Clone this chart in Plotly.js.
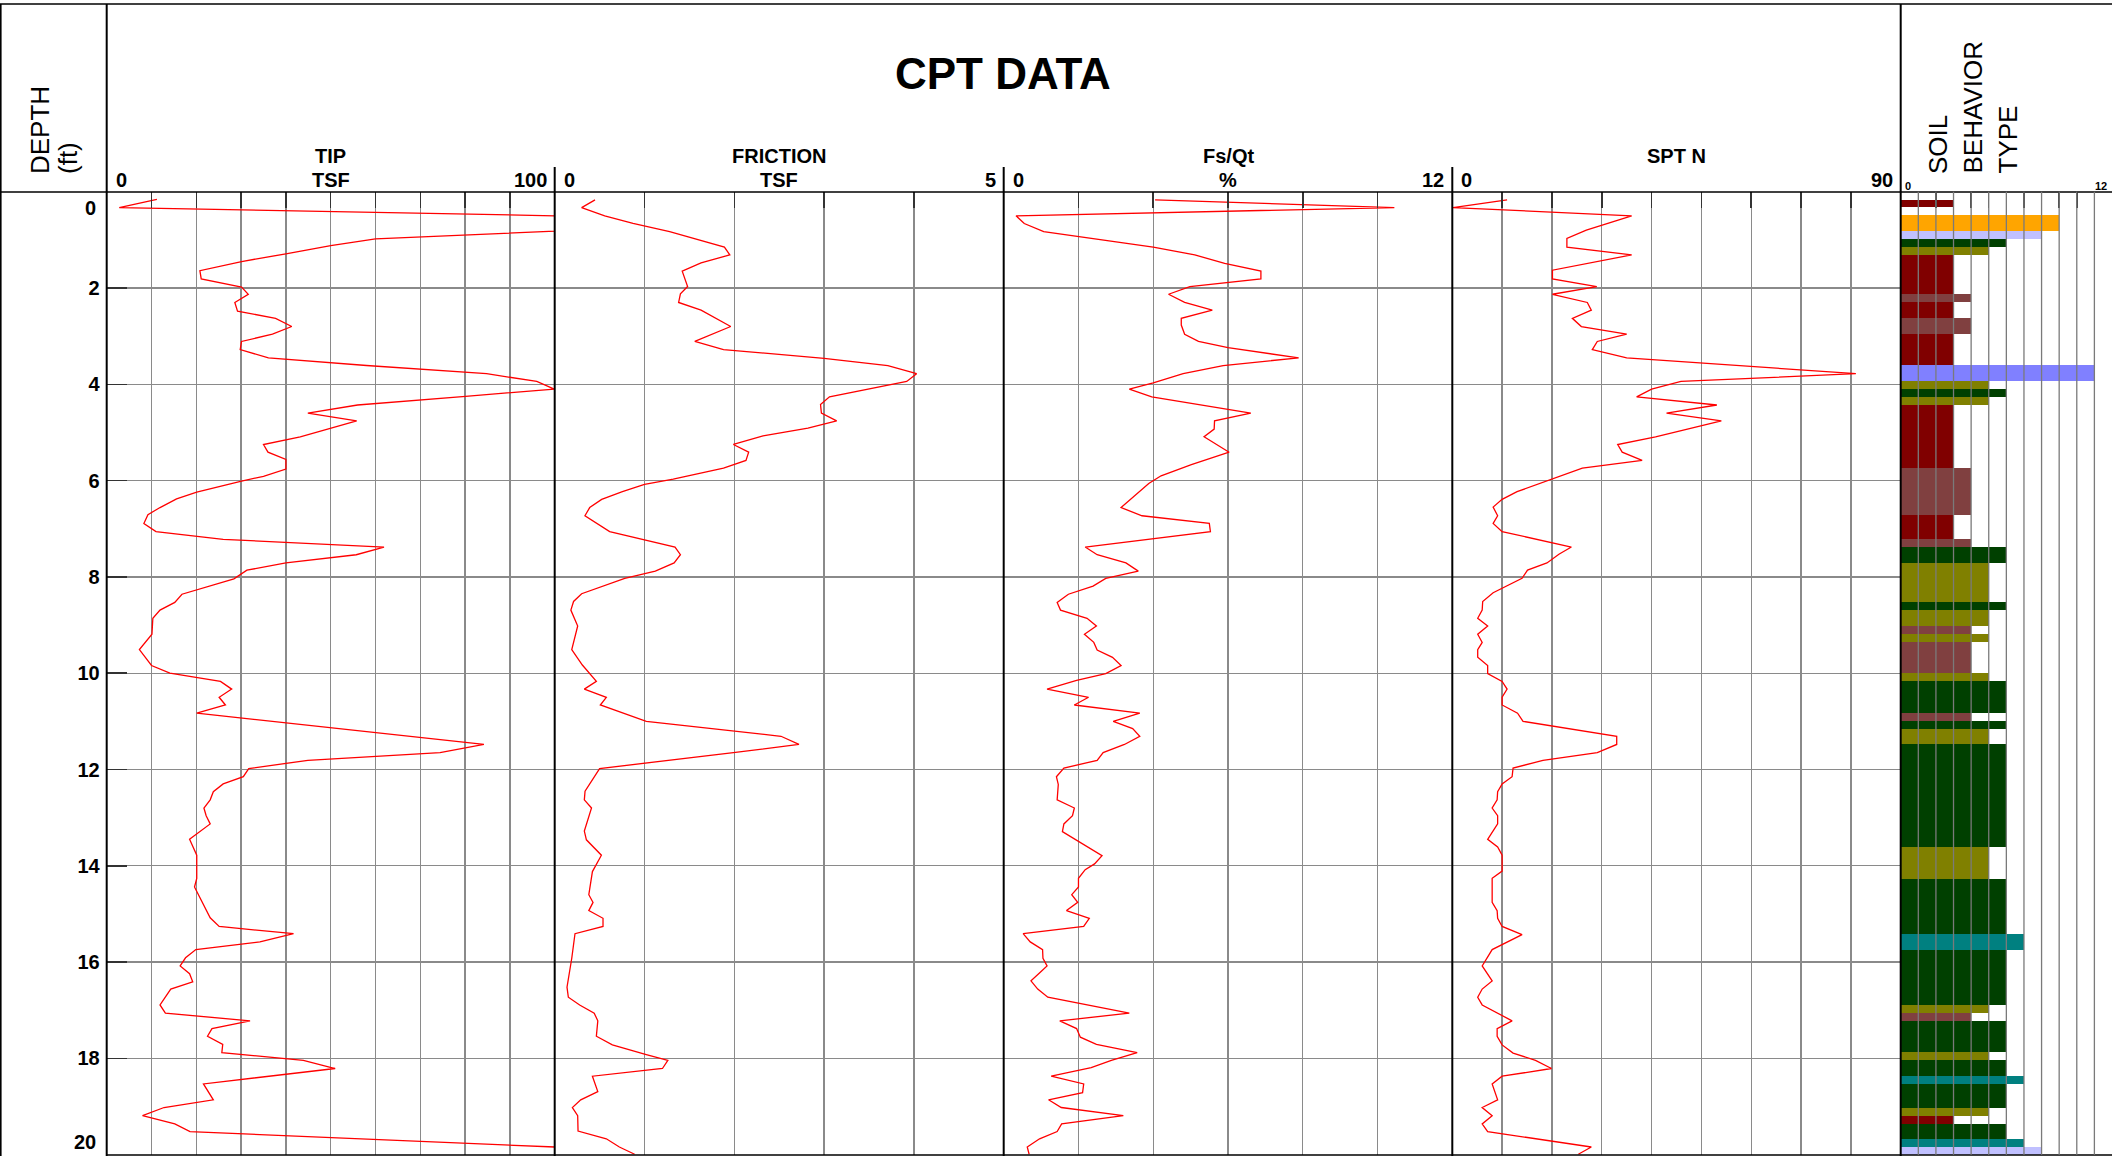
<!DOCTYPE html>
<html>
<head>
<meta charset="utf-8">
<script src="https://cdn.plot.ly/plotly-3.0.1.min.js"></script>
<style>
html,body{margin:0;padding:0;background:#ffffff;}
#chart{width:2112px;height:1156px;}
</style>
</head>
<body>
<div id="chart"></div>
<script>
// ---------------- DATA ----------------
const tipDepth = [0.16,0.33,0.50,0.82,0.98,1.12,1.29,1.45,1.64,1.81,1.98,2.13,2.30,2.48,2.63,2.80,2.96,3.11,3.28,3.45,3.61,3.78,3.94,4.10,4.25,4.43,4.60,4.76,5.09,5.25,5.41,5.56,5.76,5.91,6.01,6.24,6.38,6.56,6.71,6.89,7.06,7.22,7.38,7.54,7.71,7.86,8.04,8.36,8.53,8.69,8.86,9.19,9.51,9.84,10.00,10.17,10.33,10.50,10.66,10.83,11.48,11.65,11.81,11.98,12.15,12.30,12.46,12.63,12.80,12.96,13.13,13.45,13.78,14.26,14.44,14.72,15.08,15.26,15.41,15.58,15.74,15.91,16.08,16.24,16.41,16.56,16.89,17.06,17.22,17.38,17.54,17.71,17.88,18.04,18.21,18.53,18.86,19.02,19.19,19.36,19.52,19.84,20.0];
const tipTsf = [11.2,2.8,100,100,60,50,40,30.1,20.8,21.1,30.1,31.6,28.6,29.2,37.7,41.3,37.0,30.1,29.8,36.1,58,84.8,96,99.9,80.1,56,44.9,55.8,43.2,35.0,36.0,40.0,40.0,35.0,30.1,20.1,15.6,11.9,9.2,8.3,11.0,26.0,61.9,55.7,40.0,31.3,28.4,16.8,15.2,11.9,10.3,10.1,7.3,10.0,14.1,25.4,27.9,25.1,26.5,20.1,84.2,74.4,44.9,31.7,30.5,26.0,23.8,23.1,21.7,22.2,23.1,18.5,20.1,20.1,19.6,21.1,23.1,25.1,41.7,34.2,19.9,17.6,16.4,18.5,19.2,14.3,11.9,13.1,32.0,23.5,22.5,25.9,25.7,43.9,51.0,21.6,23.8,12.8,8.0,15.2,18.6,100,100];

const frDepth = [0.17,0.33,0.50,0.66,0.83,0.98,1.15,1.31,1.48,1.65,1.97,2.12,2.30,2.46,2.80,3.11,3.28,3.46,3.61,3.78,3.94,4.26,4.42,4.60,4.76,4.91,5.07,5.25,5.41,5.58,5.74,5.97,6.08,6.23,6.39,6.56,6.73,7.06,7.38,7.54,7.71,7.88,8.03,8.35,8.51,8.69,9.02,9.51,9.83,10.17,10.33,10.50,10.66,11.00,11.20,11.31,11.48,11.65,11.98,12.45,12.63,12.80,13.28,13.46,13.78,13.99,14.12,14.60,14.76,14.93,15.09,15.26,15.41,15.92,16.52,16.73,16.89,17.06,17.22,17.54,17.72,17.92,18.04,18.21,18.37,18.69,18.86,19.02,19.19,19.51,19.67,19.84,19.99];
const frTsf = [0.449,0.30,0.557,0.872,1.28,1.58,1.89,1.95,1.63,1.42,1.48,1.40,1.38,1.63,1.96,1.56,1.88,3.00,3.71,4.03,3.92,3.06,2.96,2.97,3.14,2.82,2.32,1.99,2.16,2.13,1.88,1.32,1.00,0.754,0.523,0.39,0.337,0.612,1.34,1.40,1.33,1.12,0.78,0.30,0.21,0.18,0.256,0.19,0.308,0.464,0.33,0.575,0.508,1.02,1.99,2.52,2.72,1.99,0.50,0.338,0.33,0.41,0.33,0.353,0.52,0.464,0.42,0.38,0.427,0.38,0.538,0.538,0.226,0.19,0.137,0.152,0.278,0.44,0.48,0.464,0.642,1.02,1.26,1.20,0.42,0.48,0.29,0.197,0.256,0.26,0.575,0.72,0.89];

const fsDepth = [0.17,0.33,0.50,0.66,0.83,1.15,1.31,1.49,1.65,1.81,1.97,2.13,2.30,2.46,2.63,2.77,2.96,3.11,3.24,3.45,3.61,3.78,3.97,4.10,4.26,4.60,4.76,4.93,5.09,5.41,5.67,5.90,6.06,6.26,6.56,6.73,6.89,7.06,7.20,7.38,7.54,7.71,7.88,8.03,8.19,8.36,8.53,8.69,8.86,9.02,9.19,9.36,9.52,9.67,9.84,10.01,10.15,10.33,10.50,10.66,10.83,11.00,11.15,11.31,11.48,11.65,11.81,11.97,12.15,12.31,12.63,12.80,12.96,13.13,13.29,13.61,13.79,13.96,14.08,14.26,14.44,14.60,14.76,14.93,15.09,15.26,15.41,15.58,15.74,15.92,16.08,16.23,16.39,16.56,16.73,17.06,17.22,17.38,17.56,17.71,17.88,18.04,18.19,18.37,18.53,18.71,18.86,19.02,19.19,19.36,19.52,19.67,19.84,19.99];
const fsPct = [4.05,10.45,0.33,0.55,1.07,4.0,5.11,5.91,6.88,6.88,4.98,4.41,4.84,5.58,4.75,4.75,4.84,5.21,6.0,7.89,5.87,4.80,4.0,3.36,3.96,6.61,5.64,5.63,5.36,6.03,5.02,4.21,3.88,3.59,3.14,3.70,5.5,5.53,4.0,2.18,2.50,3.27,3.60,2.73,2.39,1.73,1.43,1.52,2.23,2.48,2.16,2.41,2.50,2.91,3.14,2.73,1.95,1.16,2.27,1.89,3.64,2.93,3.45,3.64,3.23,2.66,2.50,1.61,1.41,1.46,1.43,1.89,1.84,1.61,1.57,2.25,2.63,2.43,2.18,2.0,2.0,1.82,1.98,1.68,2.29,2.14,0.52,0.71,1.04,1.05,1.16,0.95,0.73,0.91,1.18,3.36,1.5,1.95,2.05,2.48,3.57,2.88,2.34,1.27,2.14,2.11,1.2,1.54,3.2,1.55,1.43,0.96,0.63,0.68];

const sptDepth = [0.17,0.33,0.50,0.80,0.97,1.15,1.31,1.63,1.81,1.97,2.13,2.30,2.46,2.63,2.80,2.96,3.11,3.28,3.45,3.78,3.94,4.10,4.26,4.43,4.60,4.76,5.09,5.25,5.41,5.58,5.74,5.97,6.23,6.39,6.55,6.73,6.89,7.06,7.38,7.53,7.71,7.86,8.03,8.33,8.51,8.69,8.86,9.02,9.19,9.36,9.51,9.67,9.84,10.01,10.17,10.33,10.50,10.66,10.83,11.00,11.31,11.48,11.65,11.81,11.97,12.15,12.30,12.46,12.63,12.80,12.96,13.13,13.45,13.61,13.78,14.11,14.26,14.76,14.93,15.09,15.26,15.43,15.74,16.08,16.39,16.56,16.73,16.89,17.22,17.38,17.54,17.72,17.89,18.04,18.21,18.37,18.53,18.86,19.02,19.19,19.36,19.52,19.84,19.99];
const sptN = [11.0,0.13,36.0,26.9,23.0,23.0,36.0,20.1,20.1,29.0,20.1,27.1,27.9,24.1,25.9,35.0,29.1,28.1,35.0,81.0,45.9,40.0,37.0,53.1,43.0,54.0,40.8,33.2,34.1,38.1,26.1,20.1,13.0,10.0,8.2,9.1,8.2,10.0,23.9,21.4,19.0,15.1,14.0,8.2,6.1,6.0,5.1,7.1,5.1,6.0,5.1,5.1,7.1,7.1,10.0,11.0,10.0,10.0,13.1,14.2,33.0,33.0,29.1,18.2,12.2,12.0,10.0,9.1,9.0,8.0,9.1,9.1,7.1,9.1,10.0,10.0,8.0,8.0,9.0,9.1,10.0,14.0,8.0,6.0,8.0,6.0,5.1,6.0,12.0,9.0,9.0,10.0,12.2,16.7,19.9,10.0,8.0,9.1,6.0,8.0,6.0,7.1,27.9,25.3];

// Soil behaviour type layers (depth from / depth to, zone number)
const sbtFrom = [0.164,0.492,0.820,0.984,1.148,1.312,2.132,2.296,2.624,2.952,3.608,3.936,4.100,4.264,4.428,5.740,6.724,7.216,7.380,7.708,8.528,8.692,9.020,9.184,9.348,10.004,10.168,10.824,10.988,11.152,11.480,13.612,14.268,15.416,15.744,16.892,17.056,17.220,17.876,18.040,18.368,18.532,19.024,19.188,19.352,19.680,19.844];
const sbtTo   = [0.328,0.820,0.984,1.148,1.312,2.132,2.296,2.624,2.952,3.608,3.936,4.100,4.264,4.428,5.740,6.724,7.216,7.380,7.708,8.528,8.692,9.020,9.184,9.348,10.004,10.168,10.824,10.988,11.152,11.480,13.612,14.268,15.416,15.744,16.892,17.056,17.220,17.876,18.040,18.368,18.532,19.024,19.188,19.352,19.680,19.844,20.008];
const sbtZone = [3,9,8,6,5,3,4,3,4,3,11,5,6,5,3,4,3,4,6,5,6,5,4,5,4,5,6,4,6,5,6,5,6,7,6,5,4,6,5,6,7,6,5,3,6,7,8];

const panelTitles = ['TIP','FRICTION','Fs/Qt','SPT N'];
const panelUnits  = ['TSF','TSF','%',''];
const panelMin    = ['0','0','0','0'];
const panelMax    = ['100','5','12','90'];
const depthTicks  = [2,4,6,8,10,12,14,16,18];

// ---------------- STYLE / LAYOUT ----------------
const W = 2112, H = 1156;
const px = x => x / W;
const py = y => 1 - y / H;
const FONT = 'Liberation Sans, Arial, Helvetica, sans-serif';
const GRID = '#8a8a8a';
const zoneColors = {3:'#800000',4:'#804040',5:'#808000',6:'#004000',7:'#008080',8:'#C0C0FF',9:'#FFA500',11:'#8080FF'};
const panelX = [[106.7,554.7],[554.7,1003.7],[1003.7,1452.3],[1452.3,1900.7],[1900.7,2112]];
const yTop = 191.7, yBot = 1154.7;
const yDom = [py(yBot), py(yTop)];

const redLine = {color:'#ff0000', width:1.3};
const traces = [
  {type:'scatter', mode:'lines', x:tipTsf, y:tipDepth, xaxis:'x', yaxis:'y', line:redLine, hoverinfo:'skip'},
  {type:'scatter', mode:'lines', x:frTsf, y:frDepth, xaxis:'x2', yaxis:'y2', line:redLine, hoverinfo:'skip'},
  {type:'scatter', mode:'lines', x:fsPct, y:fsDepth, xaxis:'x3', yaxis:'y3', line:redLine, hoverinfo:'skip'},
  {type:'scatter', mode:'lines', x:sptN, y:sptDepth, xaxis:'x4', yaxis:'y4', line:redLine, hoverinfo:'skip'},
  {type:'bar', orientation:'h', xaxis:'x5', yaxis:'y5',
   x: sbtZone,
   y: sbtFrom.map((f,i)=>(f+sbtTo[i])/2),
   width: sbtFrom.map((f,i)=>sbtTo[i]-f),
   base: 0,
   marker:{color: sbtZone.map(z=>zoneColors[z]), line:{width:0}},
   hoverinfo:'skip'}
];

function xAxis(i, range, dtick){
  return {
    domain:[px(panelX[i][0]), px(panelX[i][1])], range:range, autorange:false,
    anchor: i===0 ? 'y' : 'y'+(i+1), side:'top',
    tick0:0, dtick:dtick, showgrid: i<4, gridcolor:GRID, gridwidth:1.3,
    zeroline:false, showline:false, ticks:'inside', ticklen:16, tickwidth:1.5, tickcolor:'#333',
    showticklabels:false, fixedrange:true
  };
}
function yAxis(i, main){
  const a = {
    domain:yDom, range:[20,0], autorange:false, anchor: i===0 ? 'x' : 'x'+(i+1),
    zeroline:false, showline:false, fixedrange:true,
    tickvals: depthTicks, showgrid: i<4, gridcolor:GRID, gridwidth:1.3
  };
  if (main){
    a.ticktext = depthTicks.map(t=>'<b>'+t+'</b>');
    a.ticks = 'inside'; a.ticklen = 20; a.tickwidth = 1.5; a.tickcolor = '#333';
    a.tickfont = {family:FONT, size:20, color:'#000'};
    a.ticklabelstandoff = 6;
    a.showticklabels = true;
  } else {
    a.ticks = ''; a.showticklabels = false;
  }
  return a;
}

const shapes = [];
function pline(x0,y0,x1,y1,w,c){
  shapes.push({type:'line', xref:'paper', yref:'paper', x0:px(x0), y0:py(y0), x1:px(x1), y1:py(y1),
    line:{color:c||'#000', width:w}, layer:'above'});
}
pline(0,4,W,4,1.5);
pline(0,192,W,192,1.5);
pline(0.8,4,0.8,H,1.6);
pline(106.7,4,106.7,H,2);
[554.7,1003.7,1452.3].forEach(x=>pline(x,167,x,H,2));
pline(1900.7,4,1900.7,H,2);
pline(106,1155,W,1155,1.5);
for (let k=1;k<=11;k++){
  shapes.push({type:'line', xref:'x5', yref:'y5 domain', x0:k, x1:k, y0:0, y1:1,
    line:{color:'#7a7a7a', width:1.3}, layer:'above'});
}

const annotations = [];
function ann(text, x, y, size, opts){
  annotations.push(Object.assign({xref:'paper', yref:'paper', x:px(x), y:py(y), text:text, showarrow:false,
    font:{family:FONT, size:size, color:'#000'}, xanchor:'center', yanchor:'middle'}, opts||{}));
}
ann('<b>CPT DATA</b>', 1003, 74, 44);
for (let i=0;i<4;i++){
  const x0 = panelX[i][0], x1 = panelX[i][1], cx = (x0+x1)/2;
  ann('<b>'+panelTitles[i]+'</b>', cx, 156, 20);
  if (panelUnits[i]) ann('<b>'+panelUnits[i]+'</b>', cx, 180, 20);
  ann('<b>'+panelMin[i]+'</b>', x0+7, 180, 20, {xanchor:'left'});
  ann('<b>'+panelMax[i]+'</b>', x1-6, 180, 20, {xanchor:'right'});
}
ann('<b>0</b>', 1903, 186, 11, {xanchor:'left'});
ann('<b>12</b>', 2109, 186, 11, {xanchor:'right'});
ann('DEPTH', 40, 176, 26, {textangle:-90, yanchor:'bottom'});
ann('(ft)', 68, 176, 26, {textangle:-90, yanchor:'bottom'});
ann('SOIL', 1937.5, 176, 26, {textangle:-90, yanchor:'bottom'});
ann('BEHAVIOR', 1972.5, 176, 26, {textangle:-90, yanchor:'bottom'});
ann('TYPE', 2007.5, 176, 26, {textangle:-90, yanchor:'bottom'});
// depth end labels (0 and 20) kept inside the plot band
annotations.push({xref:'paper', yref:'y', x:px(98), y:0, yanchor:'top', xanchor:'right', yshift:-3,
  text:'<b>0</b>', showarrow:false, font:{family:FONT, size:20, color:'#000'}});
annotations.push({xref:'paper', yref:'y', x:px(98), y:20, yanchor:'bottom', xanchor:'right', yshift:0,
  text:'<b>20</b>', showarrow:false, font:{family:FONT, size:20, color:'#000'}});

const layout = {
  width:W, height:H, autosize:false,
  margin:{l:0,r:0,t:0,b:0,pad:0},
  paper_bgcolor:'#ffffff', plot_bgcolor:'#ffffff',
  showlegend:false, bargap:0,
  font:{family:FONT, color:'#000'},
  xaxis: xAxis(0,[0,100],10),
  xaxis2: xAxis(1,[0,5],1),
  xaxis3: xAxis(2,[0,12],2),
  xaxis4: xAxis(3,[0,90],10),
  xaxis5: xAxis(4,[0,12],1),
  yaxis: yAxis(0,true),
  yaxis2: yAxis(1,false),
  yaxis3: yAxis(2,false),
  yaxis4: yAxis(3,false),
  yaxis5: yAxis(4,false),
  shapes: shapes,
  annotations: annotations
};

Plotly.newPlot('chart', traces, layout, {staticPlot:true, displayModeBar:false});
</script>
</body>
</html>
